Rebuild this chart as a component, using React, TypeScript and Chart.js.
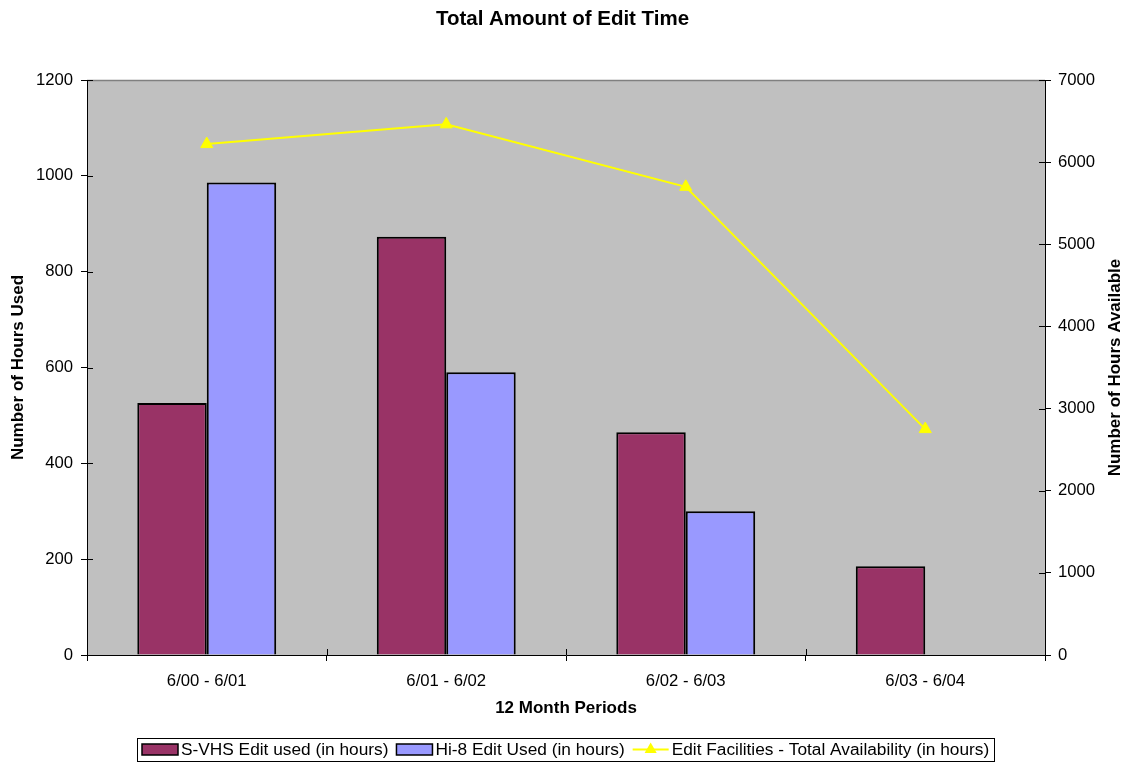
import { useEffect, useRef } from "react";
import { Chart, registerables } from "chart.js";

Chart.register(...registerables);

const FONT = "'Liberation Sans', Arial, Helvetica, sans-serif";

const periods = ["6/00 - 6/01", "6/01 - 6/02", "6/02 - 6/03", "6/03 - 6/04"];
const svhsUsed = [526, 873, 465, 185];
const hi8Used: (number | null)[] = [986, 590, 300, null];
const totalAvailability = [6220, 6460, 5700, 2750];

const seriesNames = [
  "S-VHS Edit used (in hours)",
  "Hi-8 Edit Used (in hours)",
  "Edit Facilities - Total Availability (in hours)",
];

const SVHS_COLOR = "#993366";
const HI8_COLOR = "#9999FF";
const LINE_COLOR = "#FFFF00";
const PLOT_BG = "#C0C0C0";

// Grey plot area with a thin darker outline.
const plotBackground = {
  id: "plotBackground",
  beforeDraw(chart: any) {
    const { ctx, chartArea: a } = chart;
    ctx.save();
    ctx.fillStyle = PLOT_BG;
    ctx.fillRect(a.left, a.top, a.right - a.left, a.bottom - a.top);
    ctx.strokeStyle = "#808080";
    ctx.lineWidth = 1.5;
    ctx.beginPath();
    ctx.moveTo(a.left, a.top + 0.5);
    ctx.lineTo(a.right, a.top + 0.5);
    ctx.stroke();
    ctx.restore();
  },
};

// Tick marks that cross the axis lines into the plot.
const innerTicks = {
  id: "innerTicks",
  afterDatasetsDraw(chart: any) {
    const { ctx, chartArea: a, scales } = chart;
    const len = 6;
    ctx.save();
    ctx.strokeStyle = "#000";
    ctx.lineWidth = 1;
    ctx.beginPath();
    scales.y.ticks.forEach((_: any, i: number) => {
      const py = Math.round(scales.y.getPixelForTick(i)) + 0.5;
      ctx.moveTo(a.left, py);
      ctx.lineTo(a.left + len, py);
    });
    scales.y1.ticks.forEach((_: any, i: number) => {
      const py = Math.round(scales.y1.getPixelForTick(i)) + 0.5;
      ctx.moveTo(a.right, py);
      ctx.lineTo(a.right - len, py);
    });
    for (let i = 1; i < periods.length; i++) {
      const px = Math.round(scales.x.getPixelForValue(i - 0.5)) + 0.5;
      ctx.moveTo(px, a.bottom);
      ctx.lineTo(px, a.bottom - len);
    }
    ctx.stroke();
    ctx.restore();
  },
};

// Right axis title, reading bottom-to-top like the left one.
const rightAxisTitle = {
  id: "rightAxisTitle",
  afterDraw(chart: any) {
    const { ctx, chartArea: a } = chart;
    ctx.save();
    ctx.translate(chart.width - 10, (a.top + a.bottom) / 2);
    ctx.rotate(-Math.PI / 2);
    ctx.font = `bold 17px ${FONT}`;
    ctx.fillStyle = "#000";
    ctx.textAlign = "center";
    ctx.textBaseline = "middle";
    ctx.fillText("Number of Hours Available", 0, 0);
    ctx.restore();
  },
};

// Boxed legend along the bottom edge.
const boxedLegend = {
  id: "boxedLegend",
  afterDraw(chart: any) {
    const { ctx, chartArea: a } = chart;
    ctx.save();
    ctx.font = `17.3px ${FONT}`;
    const sw = 36;
    const sh = 11;
    const gapIn = 3;
    const gapOut = 8;
    const pad = 5;
    const widths = seriesNames.map((t) => ctx.measureText(t).width);
    const total =
      pad * 2 +
      widths.reduce((s, w) => s + w + sw + gapIn, 0) +
      gapOut * (seriesNames.length - 1);
    const boxH = 23;
    const boxTop = 738;
    const cx = (a.left + a.right) / 2;
    const boxLeft = Math.round(cx - total / 2);
    const cy = boxTop + boxH / 2;

    ctx.fillStyle = "#fff";
    ctx.fillRect(boxLeft, boxTop, total, boxH);
    ctx.strokeStyle = "#000";
    ctx.lineWidth = 1;
    ctx.strokeRect(boxLeft + 0.5, boxTop + 0.5, Math.round(total), boxH);

    let x = boxLeft + pad;
    seriesNames.forEach((name, i) => {
      if (i < 2) {
        ctx.fillStyle = i === 0 ? SVHS_COLOR : HI8_COLOR;
        ctx.fillRect(x, cy - sh / 2, sw, sh);
        ctx.strokeStyle = "#000";
        ctx.lineWidth = 1.5;
        ctx.strokeRect(x, cy - sh / 2, sw, sh);
      } else {
        ctx.strokeStyle = LINE_COLOR;
        ctx.lineWidth = 2;
        ctx.beginPath();
        ctx.moveTo(x, cy);
        ctx.lineTo(x + sw, cy);
        ctx.stroke();
        const r = 7;
        const tx = x + sw / 2;
        ctx.fillStyle = LINE_COLOR;
        ctx.beginPath();
        ctx.moveTo(tx, cy - r);
        ctx.lineTo(tx + r * 0.866, cy + r / 2);
        ctx.lineTo(tx - r * 0.866, cy + r / 2);
        ctx.closePath();
        ctx.fill();
      }
      x += sw + gapIn;
      ctx.fillStyle = "#000";
      ctx.textAlign = "left";
      ctx.textBaseline = "middle";
      ctx.fillText(name, x, cy + 1);
      x += widths[i] + gapOut;
    });
    ctx.restore();
  },
};

const plainNumber = (v: any) => String(v);

export default function App() {
  const canvasRef = useRef<HTMLCanvasElement | null>(null);

  useEffect(() => {
    if (!canvasRef.current) return;
    const tickFont = { family: FONT, size: 16.7 };
    const chart = new Chart(canvasRef.current, {
      type: "bar",
      data: {
        labels: periods,
        datasets: [
          {
            type: "line",
            label: seriesNames[2],
            data: totalAvailability,
            yAxisID: "y1",
            borderColor: LINE_COLOR,
            backgroundColor: LINE_COLOR,
            borderWidth: 2,
            pointStyle: "triangle",
            pointRadius: 7,
            pointBackgroundColor: LINE_COLOR,
            pointBorderColor: LINE_COLOR,
            pointBorderWidth: 1,
            tension: 0,
            order: 0,
          } as any,
          {
            type: "bar",
            label: seriesNames[0],
            data: svhsUsed,
            yAxisID: "y",
            backgroundColor: SVHS_COLOR,
            borderColor: "#000",
            borderWidth: 2,
            barPercentage: 1,
            categoryPercentage: 0.58,
            order: 1,
          },
          {
            type: "bar",
            label: seriesNames[1],
            data: hi8Used,
            yAxisID: "y",
            backgroundColor: HI8_COLOR,
            borderColor: "#000",
            borderWidth: 2,
            barPercentage: 1,
            categoryPercentage: 0.58,
            order: 1,
          },
        ],
      },
      options: {
        responsive: false,
        animation: false,
        devicePixelRatio: 1,
        layout: { padding: { left: 0, right: 0, top: 0, bottom: 36 } },
        plugins: {
          legend: { display: false },
          tooltip: { enabled: false },
          title: {
            display: true,
            text: "Total Amount of Edit Time",
            color: "#000",
            font: { family: FONT, size: 20.5, weight: "bold" },
            padding: { top: 7, bottom: 48.4 },
          },
        },
        scales: {
          x: {
            type: "category",
            offset: true,
            grid: {
              offset: true,
              drawOnChartArea: false,
              tickLength: 6,
              color: "#000",
            },
            border: { display: true, color: "#000", width: 1 },
            ticks: {
              color: "#000",
              font: tickFont,
              padding: 10,
              maxRotation: 0,
              autoSkip: false,
            },
            title: {
              display: true,
              text: "12 Month Periods",
              color: "#000",
              font: { family: FONT, size: 17, weight: "bold" },
              padding: { top: 0, bottom: 8 },
            },
            afterFit: (s: any) => {
              s.height = 72;
            },
          },
          y: {
            type: "linear",
            position: "left",
            min: 0,
            max: 1200,
            grid: { drawOnChartArea: false, tickLength: 6, color: "#000" },
            border: { display: true, color: "#000", width: 1 },
            ticks: {
              stepSize: 200,
              color: "#000",
              font: tickFont,
              padding: 8,
              callback: plainNumber,
            },
            title: {
              display: true,
              text: "Number of Hours Used",
              color: "#000",
              font: { family: FONT, size: 17, weight: "bold" },
              padding: { top: 8.4, bottom: 0 },
            },
            afterFit: (s: any) => {
              s.width = 87;
            },
          },
          y1: {
            type: "linear",
            position: "right",
            min: 0,
            max: 7000,
            grid: { drawOnChartArea: false, tickLength: 6, color: "#000" },
            border: { display: true, color: "#000", width: 1 },
            ticks: {
              stepSize: 1000,
              color: "#000",
              font: tickFont,
              padding: 7,
              callback: plainNumber,
            },
            title: { display: false },
            afterFit: (s: any) => {
              s.width = 80;
            },
          },
        },
      },
      plugins: [plotBackground, innerTicks, rightAxisTitle, boxedLegend],
    });
    return () => chart.destroy();
  }, []);

  return (
    <div style={{ position: "absolute", left: 0, top: 0, width: 1125, height: 763, background: "#fff" }}>
      <canvas ref={canvasRef} width={1125} height={763} style={{ display: "block" }} />
    </div>
  );
}
